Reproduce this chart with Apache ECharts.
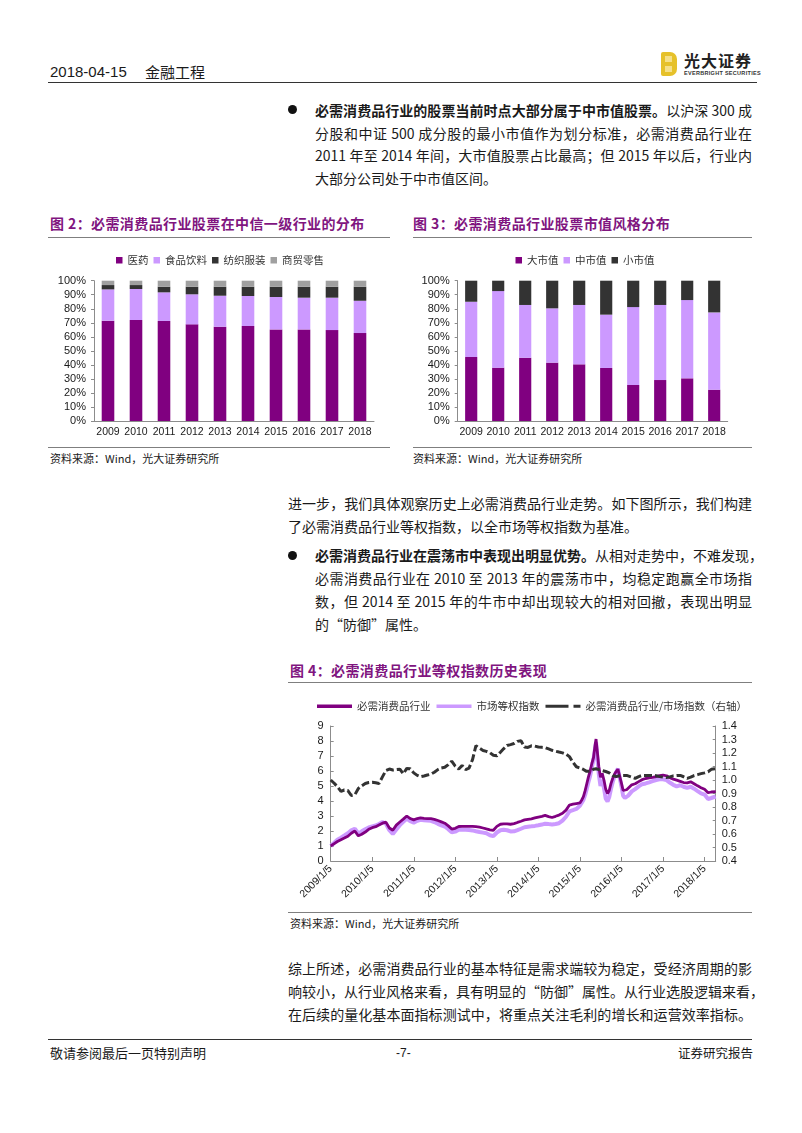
<!DOCTYPE html>
<html>
<head>
<meta charset="utf-8">
<script src="https://cdn.jsdelivr.net/npm/echarts@6/dist/echarts.min.js"></script>
<style>
  body { margin: 0; background: #fff; }
  #page { position: relative; width: 802px; height: 1133px; overflow: hidden; background: #fff;
          font-family: 'Noto Sans CJK SC', 'Liberation Sans', sans-serif; color: #1a1a1a; }
  .abs { position: absolute; white-space: nowrap; }
  .ln { position: absolute; font-size: 14px; line-height: 20px; height: 20px; white-space: nowrap;
        text-align: justify; text-align-last: justify; color: #1a1a1a; }
  .ln.last { text-align: left; text-align-last: left; }
  .b { font-weight: bold; }
  .hr { position: absolute; height: 0; }
  .title { position: absolute; font-size: 14px; font-weight: bold; color: #80157f; white-space: nowrap; line-height: 18px; letter-spacing: 0.4px; }
  .src { position: absolute; font-size: 11px; color: #1a1a1a; white-space: nowrap; line-height: 14px; }
  .dot { position: absolute; width: 9px; height: 9px; border-radius: 50%; background: #111; }
  .chart { position: absolute; }
</style>
</head>
<body>
<div id="page">
  <!-- header -->
  <div class="abs" style="left:50px;top:62px;font-size:15px;line-height:20px;font-family:'Liberation Sans','Noto Sans CJK SC';">2018-04-15</div>
  <div class="abs" style="left:145px;top:62px;font-size:15px;line-height:20px;">金融工程</div>
  <div class="abs" style="left:661px;top:52px;width:16px;height:24px;background:#e6c12a;border-radius:2px 7px 7px 2px;"></div>
  <div class="abs" style="left:665px;top:56px;width:7px;height:6px;background:#f5e08a;"></div>
  <div class="abs" style="left:665px;top:66px;width:7px;height:6px;background:#f5e08a;"></div>
  <div class="abs" style="left:684px;top:51px;font-size:16px;line-height:18px;font-weight:bold;letter-spacing:1px;color:#222;">光大证券</div>
  <div class="abs" style="left:684px;top:70px;font-size:5.5px;line-height:6px;font-weight:bold;color:#333;font-family:'Liberation Sans';letter-spacing:0.3px;">EVERBRIGHT SECURITIES</div>
  <div class="hr" style="left:48px;top:82px;width:709px;border-top:1.5px solid #333;"></div>

  <!-- paragraph 1 -->
  <div class="dot" style="left:288px;top:105px;"></div>
  <div class="ln" style="left:315px;top:100px;width:437px;"><span class="b">必需消费品行业的股票当前时点大部分属于中市值股票。</span>以沪深 300 成</div>
  <div class="ln" style="left:315px;top:122.5px;width:437px;">分股和中证 500 成分股的最小市值作为划分标准，必需消费品行业在</div>
  <div class="ln" style="left:315px;top:145px;width:437px;">2011 年至 2014 年间，大市值股票占比最高；但 2015 年以后，行业内</div>
  <div class="ln last" style="left:315px;top:167.5px;">大部分公司处于中市值区间。</div>

  <!-- figure titles 2 & 3 -->
  <div class="title" style="left:50px;top:214px;">图 2：必需消费品行业股票在中信一级行业的分布</div>
  <div class="hr" style="left:48px;top:237px;width:342px;border-top:1.5px solid #7f7f7f;"></div>
  <div class="title" style="left:413px;top:214px;">图 3：必需消费品行业股票市值风格分布</div>
  <div class="hr" style="left:413px;top:237px;width:339px;border-top:1.5px solid #7f7f7f;"></div>

  <div id="c2" class="chart" style="left:40px;top:240px;width:360px;height:205px;"></div>
  <div id="c3" class="chart" style="left:405px;top:240px;width:360px;height:205px;"></div>

  <div class="hr" style="left:48px;top:447px;width:342px;border-top:1.5px solid #7f7f7f;"></div>
  <div class="src" style="left:50px;top:451px;">资料来源：Wind，光大证券研究所</div>
  <div class="hr" style="left:413px;top:447px;width:339px;border-top:1.5px solid #7f7f7f;"></div>
  <div class="src" style="left:413px;top:451px;">资料来源：Wind，光大证券研究所</div>

  <!-- paragraph 2 -->
  <div class="ln" style="left:288px;top:493px;width:464px;">进一步，我们具体观察历史上必需消费品行业走势。如下图所示，我们构建</div>
  <div class="ln last" style="left:288px;top:516px;">了必需消费品行业等权指数，以全市场等权指数为基准。</div>

  <!-- paragraph 3 -->
  <div class="dot" style="left:288px;top:550.5px;"></div>
  <div class="ln" style="left:315px;top:545px;width:437px;"><span class="b">必需消费品行业在震荡市中表现出明显优势。</span>从相对走势中，不难发现，</div>
  <div class="ln" style="left:315px;top:568px;width:437px;">必需消费品行业在 2010 至 2013 年的震荡市中，均稳定跑赢全市场指</div>
  <div class="ln" style="left:315px;top:591px;width:437px;">数，但 2014 至 2015 年的牛市中却出现较大的相对回撤，表现出明显</div>
  <div class="ln last" style="left:315px;top:614px;">的“防御”属性。</div>

  <!-- figure 4 -->
  <div class="title" style="left:290px;top:661px;">图 4：必需消费品行业等权指数历史表现</div>
  <div class="hr" style="left:288px;top:682px;width:464px;border-top:1.5px solid #7f7f7f;"></div>
  <div id="c4" class="chart" style="left:290px;top:690px;width:470px;height:222px;"></div>
  <div class="hr" style="left:288px;top:912px;width:464px;border-top:1.5px solid #7f7f7f;"></div>
  <div class="src" style="left:290px;top:916px;">资料来源：Wind，光大证券研究所</div>

  <!-- paragraph 4 -->
  <div class="ln" style="left:288px;top:958px;width:464px;">综上所述，必需消费品行业的基本特征是需求端较为稳定，受经济周期的影</div>
  <div class="ln" style="left:288px;top:981px;width:464px;">响较小，从行业风格来看，具有明显的“防御”属性。从行业选股逻辑来看，</div>
  <div class="ln" style="left:288px;top:1004px;width:464px;">在后续的量化基本面指标测试中，将重点关注毛利的增长和运营效率指标。</div>

  <!-- footer -->
  <div class="hr" style="left:48px;top:1039px;width:704px;border-top:1.5px solid #333;"></div>
  <div class="abs" style="left:50px;top:1045px;font-size:13px;line-height:16px;">敬请参阅最后一页特别声明</div>
  <div class="abs" style="left:396px;top:1045px;font-size:12px;line-height:16px;font-family:'Liberation Sans';">-7-</div>
  <div class="abs" style="left:678px;top:1045px;font-size:12.5px;line-height:16px;">证券研究报告</div>
</div>

<script>
// ---------- Figure 2 data (%) ----------
const years = ['2009','2010','2011','2012','2013','2014','2015','2016','2017','2018'];
const pharma  = [71.5, 72.0, 71.3, 68.9, 67.2, 67.7, 65.3, 65.3, 64.8, 62.7];
const food    = [22.3, 22.1, 20.4, 21.4, 22.1, 21.4, 23.1, 22.6, 23.1, 23.0];
const textile = [3.1, 2.8, 4.0, 5.4, 6.4, 6.6, 7.3, 7.8, 7.8, 10.0];
const retail  = [3.1, 3.1, 4.3, 4.3, 4.3, 4.3, 4.3, 4.3, 4.3, 4.3];

// ---------- Figure 3 data (%) ----------
const largeCap = [45.6, 38.0, 45.1, 41.6, 40.4, 37.8, 25.7, 29.2, 30.4, 22.3];
const midCap   = [39.4, 54.6, 37.6, 38.7, 42.3, 38.0, 55.5, 53.5, 55.8, 55.1];
const smallCap = [15.0, 7.4, 17.3, 19.7, 17.3, 24.2, 18.8, 17.3, 13.8, 22.6];

// ---------- Figure 4 data ----------
const dates = [
  '2009-01-05','2009-02-05','2009-03-05','2009-04-05','2009-05-05','2009-06-05','2009-07-05','2009-08-05','2009-09-05','2009-10-05','2009-11-05','2009-12-05',
  '2010-01-05','2010-02-05','2010-03-05','2010-04-05','2010-05-05','2010-06-05','2010-07-05','2010-08-05','2010-09-05','2010-10-05','2010-11-05','2010-12-05',
  '2011-01-05','2011-02-05','2011-03-05','2011-04-05','2011-05-05','2011-06-05','2011-07-05','2011-08-05','2011-09-05','2011-10-05','2011-11-05','2011-12-05',
  '2012-01-05','2012-02-05','2012-03-05','2012-04-05','2012-05-05','2012-06-05','2012-07-05','2012-08-05','2012-09-05','2012-10-05','2012-11-05','2012-12-05',
  '2013-01-05','2013-02-05','2013-03-05','2013-04-05','2013-05-05','2013-06-05','2013-07-05','2013-08-05','2013-09-05','2013-10-05','2013-11-05','2013-12-05',
  '2014-01-05','2014-02-05','2014-03-05','2014-04-05','2014-05-05','2014-06-05','2014-07-05','2014-08-05','2014-09-05','2014-10-05','2014-11-05','2014-12-05',
  '2015-01-05','2015-01-20','2015-02-05','2015-02-20','2015-03-05','2015-03-20','2015-04-05','2015-04-20','2015-05-05','2015-05-20','2015-05-27','2015-06-05',
  '2015-06-20','2015-07-05','2015-07-20','2015-08-05','2015-08-20','2015-09-05','2015-09-20','2015-10-05','2015-10-20','2015-11-05','2015-11-20','2015-12-05',
  '2015-12-20','2016-01-05','2016-01-20','2016-02-05','2016-02-20',
  '2016-03-05','2016-04-05','2016-05-05','2016-06-05','2016-07-05','2016-08-05','2016-09-05','2016-10-05','2016-11-05','2016-12-05',
  '2017-01-05','2017-02-05','2017-03-05','2017-04-05','2017-05-05','2017-06-05','2017-07-05','2017-08-05','2017-09-05','2017-10-05','2017-11-05','2017-12-05',
  '2018-01-05','2018-02-05','2018-03-05','2018-04-13'
];
const staples = [
  1.00, 1.16, 1.30, 1.42, 1.53, 1.65, 1.85, 2.00, 1.68, 1.78, 1.93, 2.11,
  2.22, 2.29, 2.40, 2.52, 2.59, 2.20, 2.05, 2.39, 2.60, 2.79, 3.00, 2.83,
  2.74, 2.83, 2.88, 2.84, 2.82, 2.82, 2.78, 2.70, 2.61, 2.52, 2.34, 2.13,
  2.18, 2.30, 2.31, 2.31, 2.31, 2.31, 2.29, 2.26, 2.20, 2.14, 2.08, 2.05,
  2.31, 2.45, 2.48, 2.48, 2.45, 2.49, 2.57, 2.65, 2.74, 2.78, 2.81, 2.87,
  2.93, 2.98, 3.04, 2.96, 2.90, 2.98, 3.06, 3.18, 3.39, 3.73, 3.79, 3.83,
  3.87, 4.05, 4.29, 4.69, 5.10, 5.57, 6.00, 6.50, 6.90, 7.80, 8.13, 7.46,
  6.30, 5.58, 5.85, 5.38, 4.79, 4.50, 4.70, 5.16, 5.50, 5.78, 5.96, 6.12,
  6.00, 5.20, 4.70, 4.73, 4.75,
  4.86, 5.08, 5.15, 5.29, 5.42, 5.50, 5.54, 5.57, 5.62, 5.69,
  5.72, 5.68, 5.55, 5.46, 5.39, 5.31, 5.23, 5.21, 5.28, 5.15, 5.01, 4.89,
  4.78, 4.55, 4.60, 4.62
];
const market = [
  1.00, 1.22, 1.42, 1.56, 1.70, 1.85, 2.04, 2.15, 1.83, 1.98, 2.12, 2.24,
  2.31, 2.37, 2.47, 2.59, 2.50, 2.05, 1.80, 2.10, 2.39, 2.61, 2.82, 2.65,
  2.56, 2.68, 2.75, 2.72, 2.70, 2.68, 2.60, 2.48, 2.38, 2.30, 2.12, 1.91,
  1.96, 2.08, 2.09, 2.09, 2.07, 2.04, 1.98, 1.93, 1.89, 1.85, 1.72, 1.66,
  1.90, 2.05, 2.08, 2.05, 1.97, 1.98, 2.06, 2.15, 2.25, 2.28, 2.31, 2.34,
  2.38, 2.43, 2.49, 2.46, 2.44, 2.47, 2.52, 2.69, 2.95, 3.31, 3.39, 3.47,
  3.68, 3.87, 4.07, 4.41, 4.77, 5.23, 5.67, 6.22, 6.80, 7.60, 7.90, 7.10,
  5.80, 5.00, 5.40, 4.85, 4.15, 3.97, 4.26, 4.80, 5.25, 5.64, 5.92, 6.15,
  6.05, 5.00, 4.35, 4.20, 4.18,
  4.36, 4.64, 4.79, 4.97, 5.12, 5.17, 5.24, 5.32, 5.40, 5.45,
  5.45, 5.39, 5.23, 5.08, 4.98, 5.05, 4.95, 4.87, 4.95, 4.82, 4.66, 4.51,
  4.43, 4.13, 4.20, 4.30
];
const ratio = [
  1.000, 0.976, 0.950, 0.916, 0.926, 0.922, 0.885, 0.890, 0.937, 0.956, 0.974, 0.981,
  0.984, 0.979, 0.974, 1.023, 1.070, 1.081, 1.074, 1.077, 1.080, 1.046, 1.086, 1.084,
  1.053, 1.034, 1.024, 1.030, 1.037, 1.043, 1.058, 1.077, 1.089, 1.094, 1.114, 1.139,
  1.103, 1.081, 1.108, 1.077, 1.088, 1.151, 1.254, 1.236, 1.219, 1.212, 1.202, 1.183,
  1.179, 1.206, 1.231, 1.256, 1.262, 1.270, 1.286, 1.291, 1.244, 1.241, 1.253, 1.251,
  1.244, 1.242, 1.240, 1.230, 1.220, 1.213, 1.207, 1.201, 1.191, 1.173, 1.131, 1.098,
  1.089, 1.084, 1.078, 1.071, 1.064, 1.060, 1.066, 1.072, 1.080, 1.083, 1.083, 1.080,
  1.077, 1.073, 1.070, 1.067, 1.063, 1.060, 1.053, 1.043, 1.033, 1.024, 1.025, 1.028,
  1.031, 1.034, 1.034, 1.034, 1.034,
  1.033, 1.021, 1.012, 1.025, 1.034, 1.034, 1.034, 1.034, 1.032, 1.025,
  1.021, 1.019, 1.023, 1.031, 1.034, 1.034, 1.024, 1.012, 1.021, 1.033, 1.040, 1.047,
  1.053, 1.061, 1.079, 1.084
];
const yearTickLabels = ['2009/1/5','2010/1/5','2011/1/5','2012/1/5','2013/1/5','2014/1/5','2015/1/5','2016/1/5','2017/1/5','2018/1/5'];
const xStart = '2009-01-05', xEnd = '2018-04-13';

// ---------- common styles ----------
const AX = '#8c8c8c';
const NUM_FONT = "'Liberation Sans', Arial, sans-serif";
const CJK_FONT = "'Noto Sans CJK SC', sans-serif";
const C_DARK = '#800080', C_LIGHT = '#cc99ff', C_BLACK = '#333333', C_GRAY = '#a0a0a0';

function barOption(names, colors, datas, gridLeft, gridRight) {
  return {
    animation: false,
    legend: {
      top: 10, left: 'center', icon: 'rect', itemWidth: 6.5, itemHeight: 6.5, itemGap: 5,
      textStyle: { fontSize: 10.5, color: '#333', fontFamily: CJK_FONT },
      data: names
    },
    grid: { left: gridLeft, right: gridRight, top: 40.7, bottom: 24 },
    xAxis: {
      type: 'category', data: years,
      axisLine: { lineStyle: { color: AX } },
      axisTick: { length: 4, lineStyle: { color: AX } },
      axisLabel: { interval: 0, color: '#1a1a1a', fontSize: 10.5, margin: 6, fontFamily: NUM_FONT }
    },
    yAxis: {
      type: 'value', min: 0, max: 100, interval: 10,
      axisLine: { show: true, lineStyle: { color: AX } },
      axisTick: { show: true, length: 3, lineStyle: { color: AX } },
      splitLine: { show: false },
      axisLabel: { formatter: '{value}%', color: '#1a1a1a', fontSize: 11, margin: 8, fontFamily: NUM_FONT }
    },
    series: names.map((n, i) => ({
      name: n, type: 'bar', stack: 'all', data: datas[i], barWidth: '45%',
      itemStyle: { color: colors[i] }
    }))
  };
}

const c2 = echarts.init(document.getElementById('c2'));
c2.setOption(barOption(['医药','食品饮料','纺织服装','商贸零售'], [C_DARK, C_LIGHT, C_BLACK, C_GRAY],
  [pharma, food, textile, retail], 54, 26));

const c3 = echarts.init(document.getElementById('c3'));
c3.setOption(barOption(['大市值','中市值','小市值'], [C_DARK, C_LIGHT, C_BLACK],
  [largeCap, midCap, smallCap], 52.7, 37.3));

// ---------- Figure 4 ----------
// x axis: days elapsed since the first date, ticks every year (365.25 days)
const DAY = 86400000;
const t0 = Date.parse(xStart + 'T00:00:00Z');
const dayOf = s => (Date.parse(s + 'T00:00:00Z') - t0) / DAY;
const YEAR = 365.25;
const pairs = arr => dates.map((d, i) => [dayOf(d), arr[i]]);

const c4 = echarts.init(document.getElementById('c4'));
c4.setOption({
  animation: false,
  legend: {
    top: 6, left: 22, itemWidth: 35, itemHeight: 3.5, itemGap: 6,
    textStyle: { fontSize: 10.5, color: '#333', fontFamily: CJK_FONT },
    data: [
      { name: '必需消费品行业', icon: 'rect' },
      { name: '市场等权指数', icon: 'rect' },
      { name: '必需消费品行业/市场指数（右轴）', icon: 'path://M0,0h23v3h-23z M28,0h7v3h-7z' }
    ]
  },
  grid: { left: 40.7, right: 44.3, top: 36, bottom: 51 },
  xAxis: {
    type: 'value', min: 0, max: dayOf(xEnd), interval: YEAR,
    axisLine: { lineStyle: { color: AX } },
    axisTick: { show: true, inside: true, length: 4, lineStyle: { color: AX } },
    axisLabel: {
      rotate: 45, fontSize: 10.5, color: '#1a1a1a', margin: 6, fontFamily: NUM_FONT,
      showMaxLabel: false, hideOverlap: false,
      formatter: v => {
        const k = Math.round(v / YEAR);
        return (Math.abs(v - k * YEAR) < 1 && k < yearTickLabels.length) ? yearTickLabels[k] : '';
      }
    },
    splitLine: { show: false }
  },
  yAxis: [
    {
      type: 'value', min: 0, max: 9, interval: 1, position: 'left',
      axisLine: { show: true, lineStyle: { color: AX } },
      axisTick: { show: true, inside: true, length: 3, lineStyle: { color: AX } },
      splitLine: { show: false },
      axisLabel: { color: '#1a1a1a', fontSize: 11, margin: 7, fontFamily: NUM_FONT }
    },
    {
      type: 'value', min: 0.4, max: 1.4, interval: 0.1, position: 'right',
      axisLine: { show: true, lineStyle: { color: AX } },
      axisTick: { show: true, inside: true, length: 3, lineStyle: { color: AX } },
      splitLine: { show: false },
      axisLabel: { color: '#1a1a1a', fontSize: 11, margin: 6, fontFamily: NUM_FONT, formatter: v => v.toFixed(1) }
    }
  ],
  series: [
    { name: '市场等权指数', type: 'line', yAxisIndex: 0, data: pairs(market), symbol: 'none', z: 2,
      lineStyle: { color: C_LIGHT, width: 4 }, itemStyle: { color: C_LIGHT } },
    { name: '必需消费品行业', type: 'line', yAxisIndex: 0, data: pairs(staples), symbol: 'none', z: 3,
      lineStyle: { color: C_DARK, width: 2.8 }, itemStyle: { color: C_DARK } },
    { name: '必需消费品行业/市场指数（右轴）', type: 'line', yAxisIndex: 1, data: pairs(ratio), symbol: 'none', z: 4,
      lineStyle: { color: C_BLACK, width: 3, type: [8, 3] }, itemStyle: { color: C_BLACK } }
  ]
});
</script>
</body>
</html>
